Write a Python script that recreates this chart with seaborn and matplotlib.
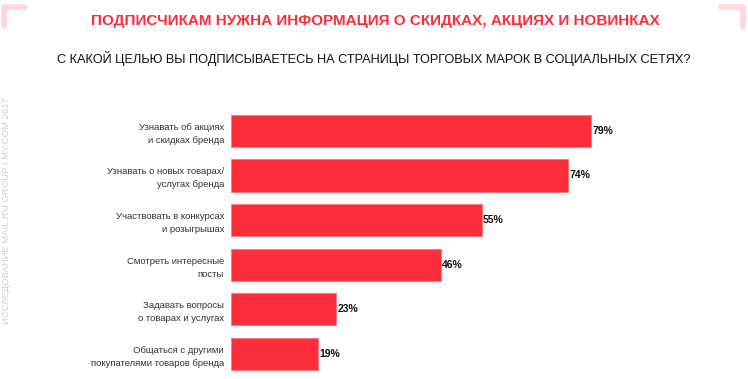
import matplotlib
matplotlib.use("Agg")
import matplotlib.pyplot as plt
import seaborn as sns
import pandas as pd
from matplotlib.lines import Line2D

# data
reasons = [
    "Узнавать об акциях\nи скидках бренда",
    "Узнавать о новых товарах/\nуслугах бренда",
    "Участвовать в конкурсах\nи розыгрышах",
    "Смотреть интересные\nпосты",
    "Задавать вопросы\nо товарах и услугах",
    "Общаться с другими\nпокупателями товаров бренда",
]
shares = [79, 74, 55, 46, 23, 19]

title = "ПОДПИСЧИКАМ НУЖНА ИНФОРМАЦИЯ О СКИДКАХ, АКЦИЯХ И НОВИНКАХ"
question = "С КАКОЙ ЦЕЛЬЮ ВЫ ПОДПИСЫВАЕТЕСЬ НА СТРАНИЦЫ ТОРГОВЫХ МАРОК В СОЦИАЛЬНЫХ СЕТЯХ?"
source = "ИССЛЕДОВАНИЕ MAIL.RU GROUP I MY.COM 2017"

df = pd.DataFrame({"reason": reasons, "share": shares})

sns.set_style("white")
plt.rcParams['font.family'] = ['Liberation Sans', 'DejaVu Sans']

fig = plt.figure(figsize=(7.48, 3.79), dpi=100)
W, H = 748, 379
# axes placed in pixel terms
left, right = 231, 231 + 85 * 4.56
top, bottom = 108.5, 376.4
ax = fig.add_axes([left / W, 1 - bottom / H, (right - left) / W, (bottom - top) / H])

red = "#fd2c3a"
sns.barplot(data=df, x="share", y="reason", orient="h", color=red,
            width=0.72, edgecolor="#ff7a83", linewidth=0.8, saturation=1, ax=ax)

ax.set_xlim(0, 85)
ax.set_ylim(5.5, -0.5)
ax.set_xlabel("")
ax.set_ylabel("")
ax.set_xticks([])
sns.despine(ax=ax, left=True, bottom=True)
ax.tick_params(axis="y", length=0, pad=5)
for lab in ax.get_yticklabels():
    lab.set_fontsize(6.8)
    lab.set_color("#333333")
    lab.set_linespacing(1.55)

for i, v in enumerate(shares):
    ax.text(v + 0.3, i, f"{v}%", va="center", ha="left", fontsize=7.5,
            fontweight="bold", color="#111111")

fig.text(375 / W, 1 - 21 / H, title, ha="center", va="center", color=red,
         fontsize=11, fontweight="bold")
fig.text(374 / W, 1 - 58 / H, question, ha="center", va="center", color="#111111",
         fontsize=9.2)
fig.text(7 / W, 1 - 211 / H, source, rotation=90, ha="center", va="center",
         color="#d0d0d0", fontsize=6.8)

# corner brackets
pink = "#ffd6dc"
for xs, ys in [([4, 4, 25], [26, 7, 7]), ([721, 743, 743], [7, 7, 27])]:
    fig.add_artist(Line2D([x / W for x in xs], [1 - y / H for y in ys],
                          color=pink, lw=4, solid_capstyle="round",
                          solid_joinstyle="round", transform=fig.transFigure))

fig.savefig("out.png", dpi=100)
